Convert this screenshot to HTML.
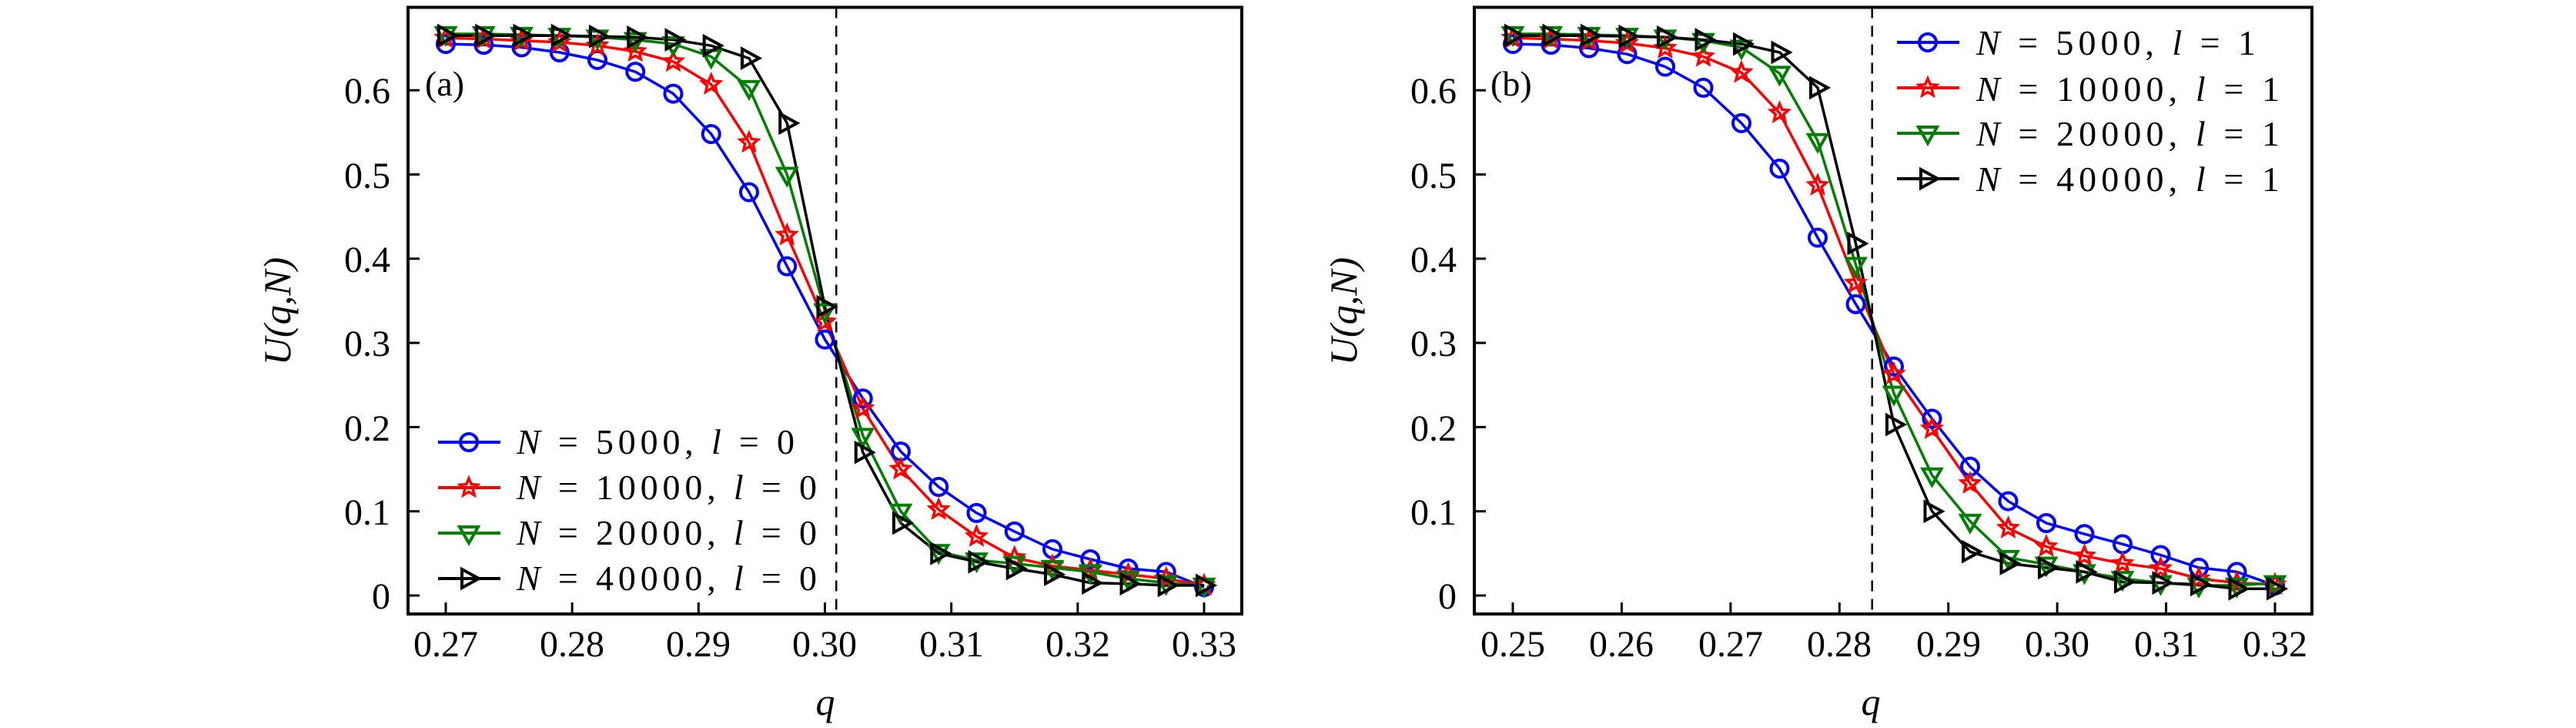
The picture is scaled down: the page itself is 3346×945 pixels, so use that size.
<!DOCTYPE html>
<html><head><meta charset="utf-8"><style>
html,body{margin:0;padding:0;background:#fff;}
svg{display:block;}
text{font-family:"Liberation Serif",serif;fill:#000;}
</style></head><body>
<svg id="s" width="3346" height="945" viewBox="0 0 3346 945" xmlns="http://www.w3.org/2000/svg">
<g id="pa"></g><g id="pb"></g>
<g font-size="48" text-anchor="end">
<text x="507" y="790">0</text><text x="507" y="681">0.1</text><text x="507" y="572">0.2</text><text x="507" y="462">0.3</text><text x="507" y="353">0.4</text><text x="507" y="244">0.5</text><text x="507" y="134">0.6</text>
<text x="1892" y="790">0</text><text x="1892" y="681">0.1</text><text x="1892" y="572">0.2</text><text x="1892" y="462">0.3</text><text x="1892" y="353">0.4</text><text x="1892" y="244">0.5</text><text x="1892" y="134">0.6</text>
</g>
<g font-size="48" text-anchor="middle">
<text x="579" y="852">0.27</text><text x="743" y="852">0.28</text><text x="907" y="852">0.29</text><text x="1071" y="852">0.30</text><text x="1236" y="852">0.31</text><text x="1400" y="852">0.32</text><text x="1564" y="852">0.33</text>
<text x="1965" y="852">0.25</text><text x="2106" y="852">0.26</text><text x="2248" y="852">0.27</text><text x="2389" y="852">0.28</text><text x="2531" y="852">0.29</text><text x="2672" y="852">0.30</text><text x="2814" y="852">0.31</text><text x="2955" y="852">0.32</text>
</g>
<g font-size="50" font-style="italic" text-anchor="middle">
<text x="1072" y="928">q</text><text x="2430" y="928">q</text>
<text transform="translate(377,404) rotate(-90)">U(q,N)</text>
<text transform="translate(1762,404) rotate(-90)">U(q,N)</text>
</g>
<g font-size="46"><text x="552" y="124">(a)</text><text x="1936" y="124">(b)</text></g>
<g font-size="46" lengthAdjust="spacing" xml:space="preserve">
<text x="671" y="589" textLength="361"><tspan font-style="italic">N</tspan>  =  5000,  <tspan font-style="italic">l</tspan>  =  0</text>
<text x="671" y="648" textLength="390"><tspan font-style="italic">N</tspan>  =  10000,  <tspan font-style="italic">l</tspan>  =  0</text>
<text x="671" y="707" textLength="390"><tspan font-style="italic">N</tspan>  =  20000,  <tspan font-style="italic">l</tspan>  =  0</text>
<text x="671" y="766" textLength="390"><tspan font-style="italic">N</tspan>  =  40000,  <tspan font-style="italic">l</tspan>  =  0</text>
<text x="2567" y="71" textLength="363"><tspan font-style="italic">N</tspan>  =  5000,  <tspan font-style="italic">l</tspan>  =  1</text>
<text x="2567" y="131" textLength="394"><tspan font-style="italic">N</tspan>  =  10000,  <tspan font-style="italic">l</tspan>  =  1</text>
<text x="2567" y="189" textLength="394"><tspan font-style="italic">N</tspan>  =  20000,  <tspan font-style="italic">l</tspan>  =  1</text>
<text x="2567" y="248" textLength="394"><tspan font-style="italic">N</tspan>  =  40000,  <tspan font-style="italic">l</tspan>  =  1</text>
</g>
</svg>
<script>
var NS="http://www.w3.org/2000/svg";
function el(p,t,a){var e=document.createElementNS(NS,t);for(var k in a)e.setAttribute(k,a[k]);p.appendChild(e);return e;}
var cols=["#0000ff","#ff0000","#008000","#000000"];
function marker(g,k,x,y){
 var c=cols[k],st={fill:"none",stroke:c,"stroke-width":4};
 if(k==0){st.cx=x;st.cy=y;st.r=11;el(g,"circle",st);}
 else if(k==1){var p=[];for(var i=0;i<10;i++){var r=i%2?5.5:12,a=-Math.PI/2+i*Math.PI/5;p.push((x+r*Math.cos(a)).toFixed(1)+","+(y+r*Math.sin(a)).toFixed(1));}st.points=p.join(" ");st["stroke-width"]=3.5;el(g,"polygon",st);}
 else if(k==2){st.points=(x-12)+","+(y-8)+" "+(x+12)+","+(y-8)+" "+x+","+(y+13);el(g,"polygon",st);}
 else {st.points=(x-9)+","+(y-12)+" "+(x-9)+","+(y+12)+" "+(x+13)+","+y;el(g,"polygon",st);}
}
function panel(id,box,q0,dq,xs,x0,x1,ticks,dash,data,leg){
 var g=document.getElementById(id);
 function X(q){return x0+(q-xs[0])/(xs[1]-xs[0])*(x1-x0);}
 function Y(v){return 773-v*1093;}
 el(g,"line",{x1:X(dash),x2:X(dash),y1:box[1],y2:box[3],stroke:"#000","stroke-width":2.5,"stroke-dasharray":"14,10"});
 for(var k=0;k<4;k++){
  var pts=data[k].map(function(v,i){return X(q0+i*dq).toFixed(1)+","+Y(v).toFixed(1);});
  el(g,"polyline",{points:pts.join(" "),fill:"none",stroke:cols[k],"stroke-width":3.5});
 }
 for(var k=0;k<4;k++)data[k].forEach(function(v,i){marker(g,k,X(q0+i*dq),Y(v));});
 for(var k=0;k<4;k++){el(g,"line",{x1:leg[0],x2:leg[0]+81,y1:leg[1]+k*leg[2],y2:leg[1]+k*leg[2],stroke:cols[k],"stroke-width":4});marker(g,k,leg[0]+40,leg[1]+k*leg[2]);}
 el(g,"rect",{x:box[0],y:box[1],width:box[2]-box[0],height:box[3]-box[1],fill:"none",stroke:"#000","stroke-width":4});
 ticks.forEach(function(t){el(g,"line",{x1:X(t),x2:X(t),y1:box[3],y2:box[3]-15,stroke:"#000","stroke-width":3});});
 for(var i=0;i<=6;i++)el(g,"line",{x1:box[0],x2:box[0]+15,y1:Y(i/10),y2:Y(i/10),stroke:"#000","stroke-width":3});
}
panel("pa",[530,9.5,1613,797],0.27,0.003,[0.27,0.33],579,1564,[0.27,0.28,0.29,0.30,0.31,0.32,0.33],0.3009,[
[0.655,0.654,0.651,0.645,0.636,0.622,0.596,0.548,0.479,0.391,0.304,0.234,0.171,0.129,0.098,0.076,0.055,0.043,0.032,0.028,0.010],
[0.662,0.661,0.659,0.657,0.653,0.646,0.634,0.607,0.538,0.428,0.325,0.222,0.150,0.102,0.070,0.045,0.035,0.030,0.025,0.020,0.012],
[0.667,0.667,0.666,0.665,0.663,0.660,0.655,0.640,0.603,0.500,0.338,0.190,0.100,0.052,0.042,0.038,0.033,0.028,0.020,0.015,0.012],
[0.665,0.665,0.665,0.665,0.664,0.663,0.660,0.653,0.638,0.561,0.343,0.170,0.086,0.050,0.040,0.032,0.025,0.015,0.014,0.012,0.012]],[569,574,59]);
panel("pb",[1915,9.5,3003,797],0.25,0.0035,[0.25,0.32],1965,2955,[0.25,0.26,0.27,0.28,0.29,0.30,0.31,0.32],0.2830,[
[0.655,0.654,0.650,0.643,0.628,0.603,0.561,0.507,0.425,0.346,0.272,0.210,0.153,0.112,0.086,0.073,0.061,0.048,0.033,0.028,0.012],
[0.662,0.661,0.659,0.656,0.650,0.640,0.621,0.573,0.487,0.371,0.263,0.198,0.133,0.080,0.058,0.047,0.038,0.032,0.020,0.015,0.013],
[0.667,0.667,0.666,0.665,0.663,0.659,0.651,0.620,0.540,0.393,0.240,0.143,0.088,0.045,0.037,0.028,0.020,0.015,0.012,0.012,0.015],
[0.665,0.665,0.665,0.664,0.663,0.660,0.655,0.645,0.603,0.418,0.203,0.100,0.052,0.038,0.033,0.028,0.016,0.015,0.013,0.008,0.008]],[2464,55,59]);
</script>
</body></html>
